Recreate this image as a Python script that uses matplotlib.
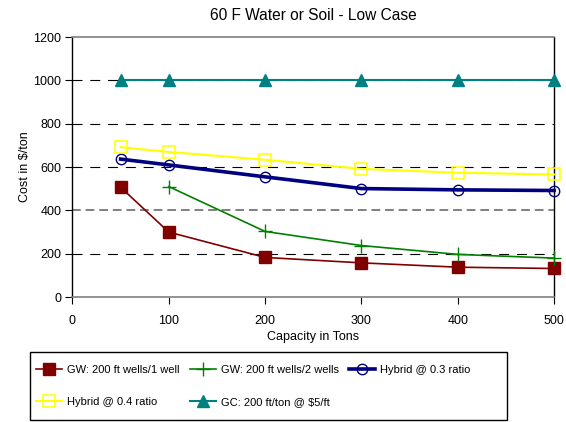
import matplotlib
matplotlib.use("Agg")
import matplotlib.pyplot as plt
from matplotlib.patches import Rectangle

plt.rcParams['font.family'] = ['Liberation Sans', 'DejaVu Sans']

capacity = [50, 100, 200, 300, 400, 500]
gw_1well = [507, 300, 183, 158, 138, 132]
gw_2wells_x = [100, 200, 300, 400, 500]
gw_2wells = [510, 303, 238, 197, 180]
hybrid_03 = [637, 610, 555, 501, 495, 492]
hybrid_04 = [692, 670, 634, 592, 574, 566]
gc_5ft = [1000, 1000, 1000, 1000, 1000, 1000]

fig = plt.figure(figsize=(5.66, 4.22), dpi=100)
ax = fig.add_axes([0.128, 0.296, 0.851, 0.616])

# grid first so the series sit on top
for yv in [200, 400, 600, 800, 1000]:
    if yv == 400:
        ax.axhline(yv, color='#808080', lw=1.4, dashes=(4.5, 2.5), zorder=1)
    else:
        ax.axhline(yv, color='black', lw=0.8, dashes=(9, 7), zorder=1)

l1, = ax.plot(capacity, gw_1well, color='#800000', lw=1.2, marker='s', ms=8.5,
              mfc='#800000', mec='#800000', label='GW: 200 ft wells/1 well',
              zorder=3, clip_on=False)
l2, = ax.plot(gw_2wells_x, gw_2wells, color='#008000', lw=1.2, marker='+', ms=10,
              mew=1.0, label='GW: 200 ft wells/2 wells', zorder=3, clip_on=False)
l3, = ax.plot(capacity, hybrid_03, color='#000080', lw=2.6, marker='o', ms=7.5,
              mfc='none', mec='#000080', mew=1.0, label='Hybrid @ 0.3 ratio',
              zorder=3, clip_on=False)
l4, = ax.plot(capacity, hybrid_04, color='#FFFF00', lw=1.5, marker='s', ms=8,
              mfc='none', mec='#FFFF00', mew=1.1, label='Hybrid @ 0.4 ratio',
              zorder=3, clip_on=False)
l5, = ax.plot(capacity, gc_5ft, color='#008080', lw=1.5, marker='^', ms=8,
              mfc='#008080', mec='#008080', label='GC: 200 ft/ton @ \\$5/ft',
              zorder=3, clip_on=False)

ax.set_xlim(0, 500)
ax.set_ylim(0, 1200)
ax.set_xticks([0, 100, 200, 300, 400, 500])
ax.set_yticks([0, 200, 400, 600, 800, 1000, 1200])
ax.tick_params(direction='out', length=5, labelsize=9, pad=8)
ax.tick_params(axis='y', pad=3)
for s in ['top', 'bottom']:
    ax.spines[s].set_color('#808080')
    ax.spines[s].set_linewidth(1.2)
for s in ['left', 'right']:
    ax.spines[s].set_color('black')
    ax.spines[s].set_linewidth(1.0)

ax.set_xlabel('Capacity in Tons', fontsize=9, labelpad=3)
ax.set_ylabel('Cost in \\$/ton', fontsize=9, labelpad=2)
ax.set_title('60 F Water or Soil - Low Case', fontsize=11.2, pad=12)

# legend entries (frame drawn separately)
handles = [l1, l4, l2, l5, l3]
leg = fig.legend(handles, [h.get_label() for h in handles], ncol=3,
                 loc='upper left', bbox_to_anchor=(36 / 566, 1 - 365 / 422),
                 frameon=False, fontsize=8, handlelength=2.35,
                 columnspacing=0.9, labelspacing=1.95, borderpad=0,
                 handletextpad=0.45, markerscale=1.0, borderaxespad=0)
fig.patches.append(Rectangle((30 / 566, 2 / 422), 477 / 566, 68 / 422,
                             transform=fig.transFigure, fill=False,
                             edgecolor='black', lw=1.0))

fig.savefig('out.png', dpi=100)
